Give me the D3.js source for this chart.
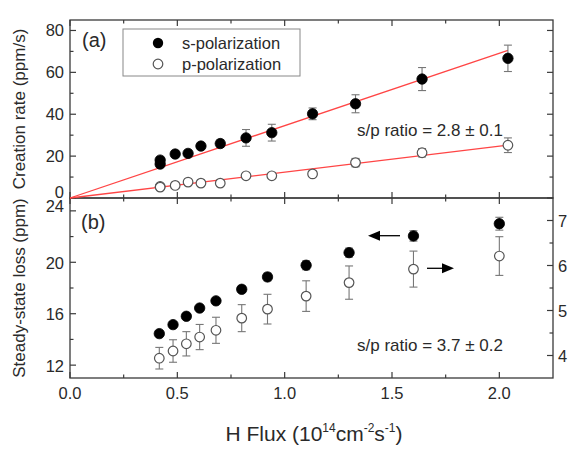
<!DOCTYPE html>
<html>
<head>
<meta charset="utf-8">
<script src="https://cdn.jsdelivr.net/npm/d3@7"></script>
<style>
  body { margin: 0; background: #fff; }
  svg { font-family: "Liberation Sans", Arial, sans-serif; }
</style>
</head>
<body>
<svg id="chart"></svg>
<script>
// panel (a): creation rate vs H flux
var fluxA    = [0.42, 0.42, 0.49, 0.55, 0.61, 0.70, 0.82, 0.94, 1.13, 1.33, 1.64, 2.04];
var sRate    = [18.1, 16.2, 21.0, 21.3, 24.8, 26.0, 28.7, 31.2, 40.2, 45.0, 56.8, 66.7];
var sRateErr = [1.5, 1.5, 1.5, 1.5, 1.5, 1.8, 4.0, 4.0, 2.8, 4.3, 5.5, 6.3];
var pRate    = [5.5, 5.2, 6.0, 7.6, 7.1, 7.1, 10.6, 10.6, 11.5, 16.9, 21.6, 25.2];
var pRateErr = [1.0, 1.0, 1.0, 1.0, 1.0, 1.0, 1.2, 1.2, 1.2, 2.0, 2.0, 3.5];
// linear fits through origin (end points)
var sFit = [[0, 0], [2.04, 70.5]];
var pFit = [[0, 0], [2.04, 25.2]];

// panel (b): steady-state loss vs H flux (s on left axis, p on right axis)
var fluxB    = [0.416, 0.48, 0.542, 0.604, 0.68, 0.80, 0.92, 1.10, 1.30, 1.60, 2.00];
var sLoss    = [14.45, 15.15, 15.8, 16.44, 17.0, 17.9, 18.86, 19.77, 20.75, 22.05, 23.0];
var sLossErr = [0.2, 0.2, 0.2, 0.2, 0.2, 0.25, 0.3, 0.35, 0.35, 0.4, 0.5];
var pLoss    = [3.94, 4.1, 4.26, 4.41, 4.56, 4.83, 5.03, 5.32, 5.62, 5.92, 6.21];
var pLossErr = [0.24, 0.25, 0.27, 0.28, 0.29, 0.30, 0.33, 0.34, 0.37, 0.40, 0.43];

var xTicks = [0, 0.5, 1.0, 1.5, 2.0];
var aTicks = [0, 20, 40, 60, 80];
var bTicks = [12, 16, 20, 24];
var rTicks = [4, 5, 6, 7];

var W = 569, H = 449;
var L = 70, R = 553, T = 20, MID = 198, B = 378;

var svg = d3.select("#chart").attr("width", W).attr("height", H);

var x = d3.scaleLinear().domain([0, 2.25]).range([L, R]);
var yA = d3.scaleLinear().domain([0, 85]).range([MID, T]);
var yB = d3.scaleLinear().domain([11, 25]).range([B, MID]);
var yR = d3.scaleLinear().domain([3.5, 7.5]).range([B, MID]);

var frameCol = "#3a3a3a", textCol = "#2a2a2a", errCol = "#777", fitCol = "#ff4545";

// frames
svg.append("rect").attr("x", L).attr("y", T).attr("width", R - L).attr("height", MID - T)
  .attr("fill", "none").attr("stroke", frameCol).attr("stroke-width", 1.3);
svg.append("rect").attr("x", L).attr("y", MID).attr("width", R - L).attr("height", B - MID)
  .attr("fill", "none").attr("stroke", frameCol).attr("stroke-width", 1.3);

// inward ticks helper
function ticks(g, values, scale, orient, len) {
  values.forEach(function (v) {
    var p = scale(v);
    var line = g.append("line").attr("stroke", frameCol).attr("stroke-width", 1.2);
    if (orient == "left") line.attr("x1", L).attr("x2", L + len).attr("y1", p).attr("y2", p);
    if (orient == "right") line.attr("x1", R).attr("x2", R - len).attr("y1", p).attr("y2", p);
    if (orient == "top") line.attr("x1", p).attr("x2", p).attr("y1", g.attr("data-y")).attr("y2", +g.attr("data-y") + len);
    if (orient == "bottom") line.attr("x1", p).attr("x2", p).attr("y1", g.attr("data-y")).attr("y2", +g.attr("data-y") - len);
  });
}
var xMinor = d3.range(0.25, 2.25, 0.5);
var gt = svg.append("g");
// panel a
ticks(gt, aTicks, yA, "left", 6);   ticks(gt, [10, 30, 50, 70], yA, "left", 3.5);
ticks(gt, aTicks, yA, "right", 6);  ticks(gt, [10, 30, 50, 70], yA, "right", 3.5);
var gTopA = svg.append("g").attr("data-y", T);
ticks(gTopA, xTicks, x, "top", 6); ticks(gTopA, xMinor, x, "top", 3.5);
var gBotA = svg.append("g").attr("data-y", MID);
ticks(gBotA, xTicks, x, "bottom", 6); ticks(gBotA, xMinor, x, "bottom", 3.5);
// panel b
ticks(gt, bTicks, yB, "left", 6);  ticks(gt, [14, 18, 22], yB, "left", 3.5);
ticks(gt, rTicks, yR, "right", 6); ticks(gt, [4.5, 5.5, 6.5], yR, "right", 3.5);
var gTopB = svg.append("g").attr("data-y", MID);
ticks(gTopB, xTicks, x, "top", 6); ticks(gTopB, xMinor, x, "top", 3.5);
var gBotB = svg.append("g").attr("data-y", B);
ticks(gBotB, xTicks, x, "bottom", 6); ticks(gBotB, xMinor, x, "bottom", 3.5);

// tick labels (the 0 / 24 pair at the panel seam is nudged up, as in the original)
var fs = 16.5;
svg.append("g").selectAll("text").data(aTicks).enter().append("text")
  .attr("x", L - 6).attr("y", function (d) { return yA(d) + (d === 0 ? -0.5 : 5.5); })
  .attr("text-anchor", "end").attr("font-size", fs).attr("fill", textCol)
  .text(function (d) { return d; });
svg.append("g").selectAll("text").data(bTicks).enter().append("text")
  .attr("x", L - 6).attr("y", function (d) { return yB(d) + (d === 24 ? 1.5 : 6.5); })
  .attr("text-anchor", "end").attr("font-size", fs).attr("fill", textCol)
  .text(function (d) { return d; });
svg.append("g").selectAll("text").data(rTicks).enter().append("text")
  .attr("x", R + 5).attr("y", function (d) { return yR(d) + 6; })
  .attr("font-size", fs).attr("fill", textCol)
  .text(function (d) { return d; });
svg.append("g").selectAll("text").data(xTicks).enter().append("text")
  .attr("x", function (d) { return x(d); }).attr("y", B + 21)
  .attr("text-anchor", "middle").attr("font-size", fs).attr("fill", textCol)
  .text(function (d) { return d3.format(".1f")(d); });

// axis titles
svg.append("text").attr("transform", "translate(25," + (T + MID) / 2 + ") rotate(-90)")
  .attr("text-anchor", "middle").attr("font-size", 17).attr("fill", textCol)
  .text("Creation rate (ppm/s)");
svg.append("text").attr("transform", "translate(25," + (MID + B) / 2 + ") rotate(-90)")
  .attr("text-anchor", "middle").attr("font-size", 17).attr("fill", textCol)
  .text("Steady-state loss (ppm)");
var xt = svg.append("text").attr("x", 314).attr("y", 441).attr("text-anchor", "middle")
  .attr("font-size", 21).attr("fill", textCol);
xt.append("tspan").text("H Flux (10");
xt.append("tspan").attr("font-size", 12).attr("dy", -9).text("14");
xt.append("tspan").attr("dy", 9).text("cm");
xt.append("tspan").attr("font-size", 12).attr("dy", -9).text("-2");
xt.append("tspan").attr("dy", 9).text("s");
xt.append("tspan").attr("font-size", 12).attr("dy", -9).text("-1");
xt.append("tspan").attr("dy", 9).text(")");

// fit lines
var line = d3.line().x(function (d) { return x(d[0]); }).y(function (d) { return yA(d[1]); });
[sFit, pFit].forEach(function (f) {
  svg.append("path").attr("d", line(f)).attr("fill", "none")
    .attr("stroke", fitCol).attr("stroke-width", 1.3);
});

// error bars + markers
function series(xs, ys, es, yScale, filled) {
  var g = svg.append("g");
  var pts = xs.map(function (v, i) { return {x: v, y: ys[i], e: es[i]}; });
  var eb = g.selectAll("g.eb").data(pts).enter().append("g")
    .attr("stroke", errCol).attr("stroke-width", 1.1);
  eb.append("line").attr("x1", function (d) { return x(d.x); }).attr("x2", function (d) { return x(d.x); })
    .attr("y1", function (d) { return yScale(d.y - d.e); }).attr("y2", function (d) { return yScale(d.y + d.e); });
  eb.append("line").attr("x1", function (d) { return x(d.x) - 4; }).attr("x2", function (d) { return x(d.x) + 4; })
    .attr("y1", function (d) { return yScale(d.y - d.e); }).attr("y2", function (d) { return yScale(d.y - d.e); });
  eb.append("line").attr("x1", function (d) { return x(d.x) - 4; }).attr("x2", function (d) { return x(d.x) + 4; })
    .attr("y1", function (d) { return yScale(d.y + d.e); }).attr("y2", function (d) { return yScale(d.y + d.e); });
  g.selectAll("circle").data(pts).enter().append("circle")
    .attr("cx", function (d) { return x(d.x); }).attr("cy", function (d) { return yScale(d.y); })
    .attr("r", filled ? 5.2 : 4.8)
    .attr("fill", filled ? "#000" : "#fff")
    .attr("stroke", filled ? "#000" : "#555").attr("stroke-width", filled ? 0.8 : 1.2);
}
series(fluxA, pRate, pRateErr, yA, false);
series(fluxA, sRate, sRateErr, yA, true);
series(fluxB, pLoss, pLossErr, yR, false);
series(fluxB, sLoss, sLossErr, yB, true);

// panel labels
svg.append("text").attr("x", 82).attr("y", 47).attr("font-size", 20).attr("fill", textCol).text("(a)");
svg.append("text").attr("x", 81).attr("y", 229).attr("font-size", 20).attr("fill", textCol).text("(b)");

// legend
svg.append("rect").attr("x", 123).attr("y", 29).attr("width", 177).attr("height", 47)
  .attr("fill", "#fff").attr("stroke", "#888").attr("stroke-width", 1);
svg.append("circle").attr("cx", 158).attr("cy", 43).attr("r", 5.2).attr("fill", "#000");
svg.append("circle").attr("cx", 158).attr("cy", 64).attr("r", 4.8).attr("fill", "#fff")
  .attr("stroke", "#555").attr("stroke-width", 1.2);
svg.append("text").attr("x", 182).attr("y", 49).attr("font-size", 16.5).attr("fill", textCol).text("s-polarization");
svg.append("text").attr("x", 182).attr("y", 70).attr("font-size", 16.5).attr("fill", textCol).text("p-polarization");

// ratio annotations
svg.append("text").attr("x", 357).attr("y", 136).attr("font-size", 17).attr("fill", textCol).text("s/p ratio = 2.8 \u00b1 0.1");
svg.append("text").attr("x", 357).attr("y", 351).attr("font-size", 17).attr("fill", textCol).text("s/p ratio = 3.7 \u00b1 0.2");

// arrows pointing to the axis of each series
function arrow(x1, x2, y) {
  var dir = x2 < x1 ? -1 : 1;
  svg.append("line").attr("x1", x1).attr("x2", x2 - dir * 10).attr("y1", y).attr("y2", y)
    .attr("stroke", "#000").attr("stroke-width", 1.3);
  svg.append("path")
    .attr("d", "M" + x2 + "," + y + "L" + (x2 - dir * 12) + "," + (y - 5) + "L" + (x2 - dir * 12) + "," + (y + 5) + "Z")
    .attr("fill", "#000");
}
arrow(400, 368, 235.7);
arrow(427, 454, 268.3);
</script>
</body>
</html>
